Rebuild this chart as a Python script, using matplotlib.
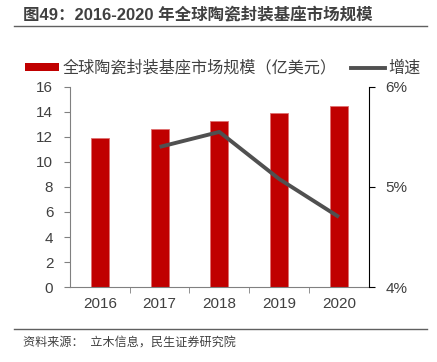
import matplotlib
matplotlib.use('Agg')
import matplotlib.pyplot as plt
from matplotlib.lines import Line2D
from matplotlib.patches import Patch

plt.rcParams['font.family'] = ['Liberation Sans', 'Noto Sans CJK SC', 'DejaVu Sans']

years = ['2016', '2017', '2018', '2019', '2020']
market = [11.9, 12.6, 13.3, 13.95, 14.5]      # 亿美元
growth_years = ['2017', '2018', '2019', '2020']
growth = [5.40, 5.55, 5.08, 4.70]             # %

txt = '#404040'
fig = plt.figure(figsize=(4.37, 3.62), dpi=100)
ax = fig.add_axes([0.160, 0.207, 0.684, 0.553])

x = list(range(len(years)))
ax.bar(x, market, width=0.3, color='#c00000', edgecolor='#e07070', linewidth=0.6, zorder=2)
ax.set_xlim(-0.5, len(years) - 0.5)
ax.set_ylim(0, 16)
ax.set_yticks(range(0, 17, 2))
ax.set_xticks(x)
ax.set_xticklabels(years)
ax.set_xticks([i + 0.5 for i in x[:-1]], minor=True)
ax.tick_params(axis='x', which='major', length=0, pad=7, labelsize=11, labelcolor=txt)
ax.tick_params(axis='x', which='minor', length=4, color='#808080')
ax.tick_params(axis='y', length=4, color='#808080', labelsize=11, labelcolor=txt, pad=8)
ax.spines['top'].set_visible(False)
ax.spines['right'].set_visible(False)
ax.spines['left'].set_color('#808080')
ax.spines['bottom'].set_color('#808080')

ax2 = ax.twinx()
gx = [years.index(y) for y in growth_years]
ax2.plot(gx, growth, color='#505050', linewidth=2.8, solid_capstyle='butt', zorder=3)
ax2.set_ylim(4, 6)
ax2.set_yticks([4, 5, 6])
ax2.set_yticklabels(['4%', '5%', '6%'])
ax2.tick_params(axis='y', length=4, color='black', labelsize=11, labelcolor=txt, pad=8)
ax2.spines['top'].set_visible(False)
ax2.spines['left'].set_visible(False)
ax2.spines['bottom'].set_visible(False)
ax2.spines['right'].set_color('black')

# legend
handles = [Patch(facecolor='#c00000', edgecolor='none'),
           Line2D([0], [0], color='#505050', linewidth=2.8)]
labels = ['全球陶瓷封装基座市场规模（亿美元）', '增速']
fig.legend(handles, labels, loc='center', bbox_to_anchor=(0.51, 0.812), ncol=2,
           frameon=False, fontsize=11.6, labelcolor=txt, handlelength=2.1,
           handleheight=0.45, handletextpad=0.2, columnspacing=0.9)

# title and source
fig.text(0.052, 0.958, '图49：2016-2020 年全球陶瓷封装基座市场规模', fontsize=11.9,
         fontweight='bold', color=txt, va='center', ha='left')
fig.add_artist(Line2D([0.032, 0.976], [0.928, 0.928], color='#606060', linewidth=1.0))
fig.add_artist(Line2D([0.032, 0.976], [0.091, 0.091], color='#606060', linewidth=1.0))
fig.text(0.052, 0.052, '资料来源：  立木信息，民生证券研究院', fontsize=8.7, color=txt,
         va='center', ha='left')

plt.savefig('out.png', dpi=100)
